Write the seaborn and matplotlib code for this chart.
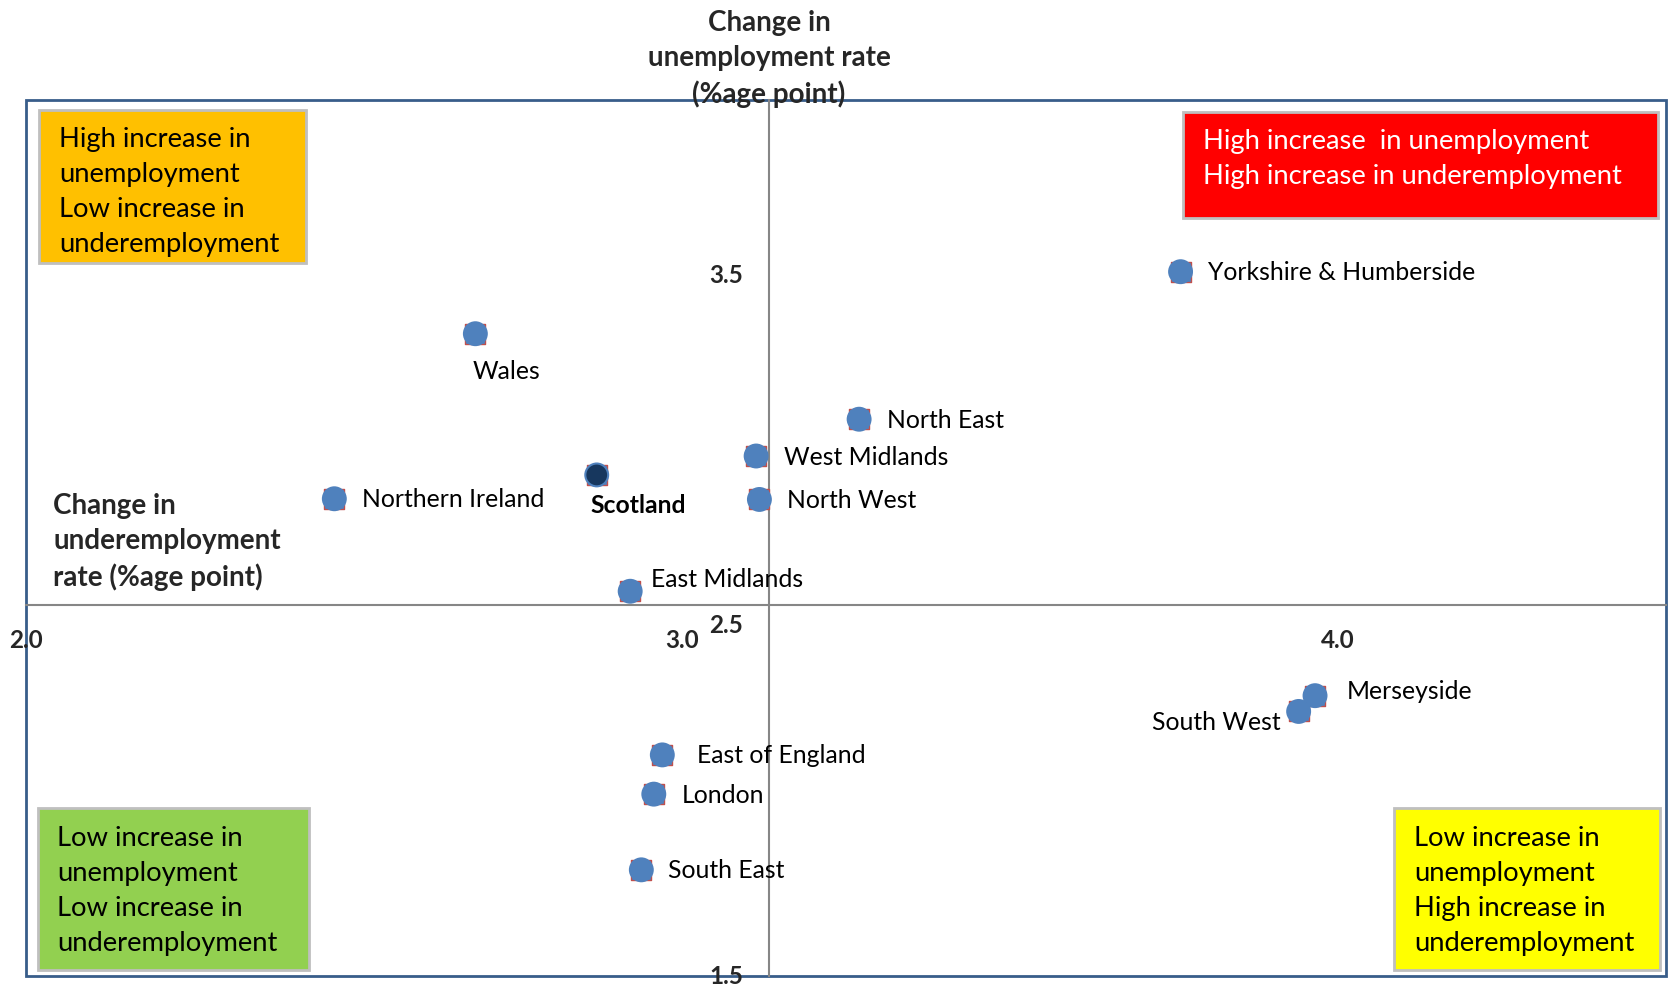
import matplotlib
matplotlib.use("Agg")
import matplotlib.pyplot as plt
from matplotlib.patches import Rectangle
import seaborn as sns
import pandas as pd

# Regional change in underemployment (x) and unemployment (y), percentage points
regions = ["Yorkshire & Humberside", "Wales", "North East", "West Midlands", "Scotland",
           "Northern Ireland", "North West", "East Midlands", "Merseyside", "South West",
           "East of England", "London", "South East"]
underemployment_change = [3.76, 2.685, 3.27, 3.113, 2.87, 2.47, 3.118, 2.921, 3.965, 3.94,
                          2.97, 2.957, 2.938]
unemployment_change = [3.51, 3.333, 3.089, 2.984, 2.93, 2.862, 2.86, 2.598, 2.30, 2.255,
                       2.131, 2.019, 1.803]
x_ticks = [2.0, 3.0, 4.0]
x_tick_labels = ["2.0", "3.0", "4.0"]
y_ticks = [1.5, 2.5, 3.5]
y_tick_labels = ["1.5", "2.5", "3.5"]
x_cross = 3.133  # where the vertical axis crosses
y_cross = 2.56   # where the horizontal axis crosses

quadrant_texts = {
    "tl": "High increase in\nunemployment\nLow increase in\nunderemployment",
    "tr": "High increase  in unemployment\nHigh increase in underemployment",
    "bl": "Low increase in\nunemployment\nLow increase in\nunderemployment",
    "br": "Low increase in\nunemployment\nHigh increase in\nunderemployment",
}

# label placement: offset in pixels (dx, dy), horizontal alignment
label_place = {
    "Yorkshire & Humberside": (27, 0, "left"),
    "Wales": (-3, -37, "left"),
    "North East": (28, 0, "left"),
    "West Midlands": (28, 0, "left"),
    "Scotland": (-6, -30, "left"),
    "Northern Ireland": (28, 0, "left"),
    "North West": (28, 0, "left"),
    "East Midlands": (21, 13, "left"),
    "Merseyside": (32, 5, "left"),
    "South West": (-18, -10, "right"),
    "East of England": (35, 0, "left"),
    "London": (28, 0, "left"),
    "South East": (27, 0, "left"),
}

sns.set_style("white")
plt.rcParams["font.family"] = ["Lato", "DejaVu Sans"]

W, H = 1669, 987
fig = plt.figure(figsize=(W / 100, H / 100), dpi=100)
ax = fig.add_axes([26 / W, 10 / H, 1640 / W, 876 / H])

df = pd.DataFrame({"region": regions, "under": underemployment_change,
                   "unemp": unemployment_change})
df["group"] = ["Scotland" if r == "Scotland" else "Other" for r in regions]

# square markers beneath the circles (corners peek out)
sns.scatterplot(data=df, x="under", y="unemp", ax=ax, marker="s", s=215,
                color="#4F81BD", edgecolor="#C0504D", linewidth=1.0, zorder=3,
                legend=False)
sns.scatterplot(data=df, x="under", y="unemp", hue="group", ax=ax, marker="o", s=270,
                palette={"Other": "#4F81BD", "Scotland": "#17375E"},
                edgecolor="#4F81BD", linewidth=1.5, zorder=4, legend=False)

for r, xv, yv in zip(regions, underemployment_change, unemployment_change):
    dx, dy, ha = label_place[r]
    ax.annotate(r, (xv, yv), xytext=(dx, dy), textcoords="offset pixels",
                ha=ha, va="center", fontsize=17.8,
                fontweight="bold" if r == "Scotland" else "normal",
                color="black", zorder=5)

ax.set_xlim(2.0, 4.5)
ax.set_ylim(1.5, 4.0)
ax.set_xlabel("")
ax.set_ylabel("")
ax.spines["left"].set_position(("data", x_cross))
ax.spines["bottom"].set_position(("data", y_cross))
for s in ("top", "right"):
    ax.spines[s].set_visible(False)
for s in ("left", "bottom"):
    ax.spines[s].set_color("#868686")
    ax.spines[s].set_linewidth(1.5)
    ax.spines[s].set_zorder(2)

ax.set_xticks(x_ticks)
ax.set_yticks(y_ticks)
ax.tick_params(axis="both", direction="inout", length=15, width=1.5, color="#868686",
               labelbottom=False, labelleft=False)

# bold tick labels placed next to the crossing axes
for v, lab in zip(x_ticks, x_tick_labels):
    ax.annotate(lab, (v, y_cross), xytext=(0, -35), textcoords="offset pixels",
                ha="center", va="center", fontsize=17.5, fontweight="bold",
                annotation_clip=False, zorder=5)
for v, lab in zip(y_ticks, y_tick_labels):
    ax.annotate(lab, (x_cross, v), xytext=(-26, 1), textcoords="offset pixels",
                ha="right", va="center", fontsize=17.5, fontweight="bold",
                annotation_clip=False, zorder=5)

# plot frame
ax.add_patch(Rectangle((0, 0), 1, 1, transform=ax.transAxes, fill=False,
                       edgecolor="#385D8A", linewidth=2, clip_on=False, zorder=1))

# axis titles
fig.text(769 / W, 1 - 59 / H, "Change in\nunemployment rate\n(%age point)",
         ha="center", va="center", fontsize=20, fontweight="bold", linespacing=1.42)
fig.text(53 / W, 1 - 542 / H, "Change in\nunderemployment\nrate (%age point)",
         ha="left", va="center", fontsize=20, fontweight="bold", linespacing=1.42)


def quadrant_box(x0, y0, x1, y1, face, text, tcolor, tx, ty):
    fig.add_artist(Rectangle((x0 / W, 1 - y1 / H), (x1 - x0) / W, (y1 - y0) / H,
                             transform=fig.transFigure, facecolor=face,
                             edgecolor="#BFBFBF", linewidth=2, zorder=6))
    fig.text(tx / W, 1 - ty / H, text, ha="left", va="center", fontsize=19.7,
             fontweight="normal", color=tcolor, linespacing=1.50, zorder=7)


quadrant_box(39, 111, 306, 264, "#FFC000", quadrant_texts["tl"], "black", 59, 192)
quadrant_box(1183, 113, 1658, 219, "#FF0000", quadrant_texts["tr"], "white", 1203, 159)
quadrant_box(38, 809, 309, 971, "#92D050", quadrant_texts["bl"], "black", 57, 891)
quadrant_box(1394, 809, 1660, 971, "#FFFF00", quadrant_texts["br"], "black", 1414, 891)

fig.savefig("out.png", dpi=100)
